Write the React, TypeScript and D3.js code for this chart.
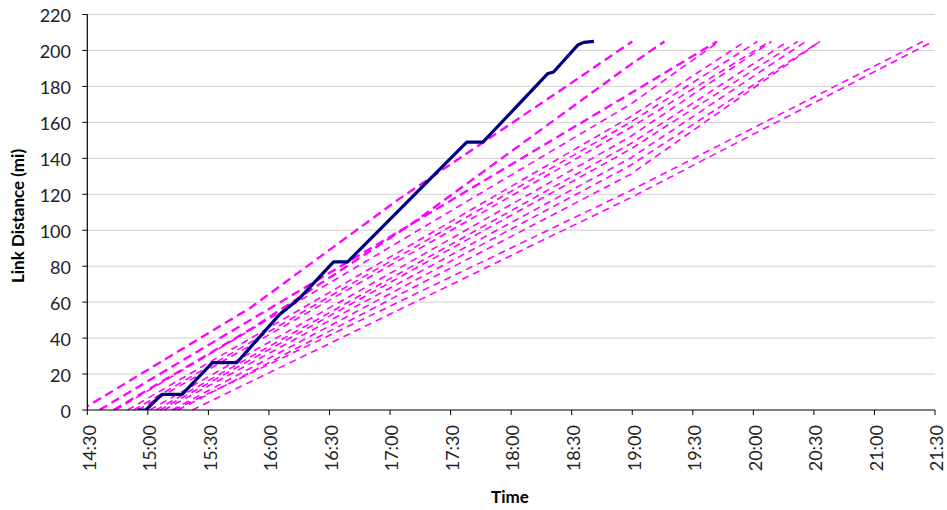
import React from "react";
import * as d3 from "d3";

// ---- data ----
const yTicks = [0, 20, 40, 60, 80, 100, 120, 140, 160, 180, 200, 220];
const xTickLabels = ["14:30","15:00","15:30","16:00","16:30","17:00","17:30","18:00","18:30","19:00","19:30","20:00","20:30","21:00","21:30"];

// Actual train (solid navy)
const actualTimes = ["14:55","14:59","15:07","15:17","15:32","15:44","16:05","16:15","16:32","16:39","17:38","17:46","18:18","18:21","18:33","18:36","18:41"];
const actualDist = [0,0,8.7,8.7,26.3,26.3,52.8,62,82.4,82.4,149,149,187,188,203,204.5,205];

// Planned / other runs (magenta dashed)
const run1Times = ["14:27","15:51","17:04","18:26","19:00"]; const run1Dist = [0,57,117,179,205];
const run2Times = ["14:43","15:51","17:10","18:59","19:16"]; const run2Dist = [0,45,103,192,205];
const run3Times = ["14:36","18:59","19:42"]; const run3Dist = [0,176,205];
const run4Times = ["14:44","18:59","19:43"]; const run4Dist = [0,170,205];
const run5Times = ["14:50","18:59","19:56"]; const run5Dist = [0,163,205];
const run6Times = ["14:53","18:59","20:02"]; const run6Dist = [0,160,205];
const run7Times = ["14:55","18:59","20:08"]; const run7Dist = [0,157,205];
const run8Times = ["15:01","18:59","20:09"]; const run8Dist = [0,152,205];
const run9Times = ["15:04","18:59","20:17"]; const run9Dist = [0,148,205];
const run10Times = ["15:06","18:59","20:22"]; const run10Dist = [0,145,205];
const run11Times = ["15:08","18:59","20:26"]; const run11Dist = [0,140,205];
const run12Times = ["15:12","18:59","20:33"]; const run12Dist = [0,136,205];
const run13Times = ["15:15","18:59","20:33"]; const run13Dist = [0,131,205];
const run14Times = ["15:13","18:59","21:24"]; const run14Dist = [0,122,205];
const run15Times = ["15:22","18:59","21:29"]; const run15Dist = [0,118,205];

const runs = [
  { t: run1Times, d: run1Dist, heavy: true },
  { t: run2Times, d: run2Dist, heavy: true },
  { t: run3Times, d: run3Dist, heavy: true },
  { t: run4Times, d: run4Dist, heavy: false },
  { t: run5Times, d: run5Dist, heavy: false },
  { t: run6Times, d: run6Dist, heavy: false },
  { t: run7Times, d: run7Dist, heavy: false },
  { t: run8Times, d: run8Dist, heavy: false },
  { t: run9Times, d: run9Dist, heavy: false },
  { t: run10Times, d: run10Dist, heavy: false },
  { t: run11Times, d: run11Dist, heavy: false },
  { t: run12Times, d: run12Dist, heavy: false },
  { t: run13Times, d: run13Dist, heavy: false },
  { t: run14Times, d: run14Dist, heavy: false },
  { t: run15Times, d: run15Dist, heavy: false },
];

const toMin = (s: string) => {
  const [h, m] = s.split(":").map(Number);
  return h * 60 + m;
};

const W = 947, H = 510;
const left = 87.3, right = 935, top = 14.5, bottom = 410;
const FONT = "Lato, 'Open Sans', sans-serif";

export default function App() {
  const x = d3.scaleLinear().domain([toMin("14:30"), toMin("21:30")]).range([left, right]);
  const y = d3.scaleLinear().domain([0, 220]).range([bottom, top]);
  const line = d3.line<[number, number]>().x(p => x(p[0])).y(p => y(p[1]));

  const actualPts: [number, number][] = actualTimes.map((t, i) => [toMin(t), actualDist[i]]);

  return (
    <svg width={W} height={H} style={{ position: "fixed", left: 0, top: 0, background: "#fff" }}
      fontFamily={FONT}>
      <defs>
        <clipPath id="plot">
          <rect x={left} y={0} width={right - left} height={bottom} />
        </clipPath>
      </defs>
      {/* gridlines */}
      {yTicks.filter(v => v > 0).map(v => (
        <line key={v} x1={left} x2={right} y1={y(v)} y2={y(v)} stroke="#d0d0d0" strokeWidth={1} />
      ))}
      {/* runs */}
      <g clipPath="url(#plot)">
        {runs.map((r, i) => (
          <path key={i}
            d={line(r.t.map((t, j) => [toMin(t), r.d[j]] as [number, number])) || ""}
            fill="none" stroke="#ff00ff"
            strokeWidth={r.heavy ? 2.3 : 1.6}
            strokeDasharray={r.heavy ? "9,5" : "7,5"} />
        ))}
        <path d={line(actualPts) || ""} fill="none" stroke="#000080" strokeWidth={3.2} strokeLinejoin="round" />
      </g>
      {/* axes */}
      <line x1={left} x2={left} y1={top} y2={bottom} stroke="#000" strokeWidth={1.2} />
      <line x1={left} x2={right} y1={bottom} y2={bottom} stroke="#000" strokeWidth={1.2} />
      {yTicks.map(v => (
        <g key={v}>
          <line x1={left - 5} x2={left} y1={y(v)} y2={y(v)} stroke="#000" />
          <text x={71} y={y(v)} dy="0.42em" textAnchor="end" fontSize={18} fill="#222">{v}</text>
        </g>
      ))}
      {xTickLabels.map(s => {
        const xv = x(toMin(s));
        return (
          <g key={s}>
            <line x1={xv} x2={xv} y1={bottom} y2={bottom + 5} stroke="#000" />
            <text transform={`translate(${xv + 2},425) rotate(-90)`} dy="0.35em" textAnchor="end" fontSize={18} fill="#222">{s}</text>
          </g>
        );
      })}
      <text transform={`translate(24,216) rotate(-90)`} textAnchor="middle" fontSize={17} fontWeight="bold" fill="#000">Link Distance (mi)</text>
      <text x={510} y={503} textAnchor="middle" fontSize={17} fontWeight="bold" fill="#000">Time</text>
    </svg>
  );
}
